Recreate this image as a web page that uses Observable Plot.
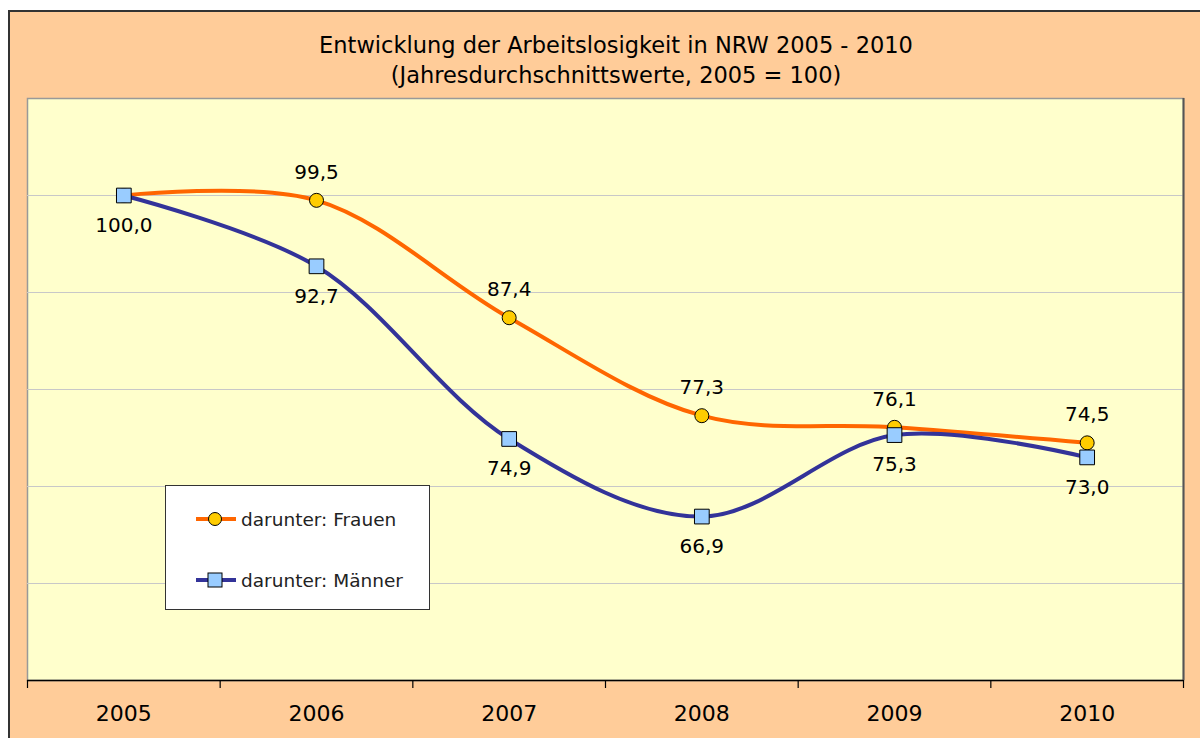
<!DOCTYPE html>
<html>
<head>
<meta charset="utf-8">
<script src="https://cdn.jsdelivr.net/npm/d3@7"></script>
<script src="https://cdn.jsdelivr.net/npm/@observablehq/plot@0.6"></script>
<style>
  html, body { margin: 0; padding: 0; background: #fff; width: 1200px; height: 738px; overflow: hidden; }
  body { font-family: "DejaVu Sans", sans-serif; }
  #chart { position: absolute; left: 8px; top: 10px; width: 1220px; height: 740px; background: #FFCC99;
           border-left: 2px solid #333; border-top: 2px solid #333; }
  #title { position: absolute; left: 0; top: 18px; width: 1212px; text-align: center; font-size: 22.5px; line-height: 30px; color: #000; }
  #plot { position: absolute; left: 0; top: 78px; }
  #legend { position: absolute; left: 155px; top: 473px; width: 263px; height: 123px; background: #fff; border: 1px solid #333; }
  .entry { position: absolute; left: 28px; height: 22px; display: flex; align-items: center; font-size: 18.5px; color: #222; white-space: nowrap; }
  .entry svg { margin-right: 3px; }
</style>
</head>
<body>
<div id="chart">
  <div id="title">Entwicklung der Arbeitslosigkeit in NRW 2005 - 2010<br>(Jahresdurchschnittswerte, 2005 = 100)</div>
  <div id="plot"></div>
  <div id="legend">
    <div class="entry" style="top:22px"><svg width="44" height="20"><line x1="2" y1="10" x2="42" y2="10" stroke="#FF6600" stroke-width="4"/><circle cx="21" cy="10" r="6.5" fill="#FFCC00" stroke="#000" stroke-width="1"/></svg>darunter: Frauen</div>
    <div class="entry" style="top:83px"><svg width="44" height="20"><line x1="2" y1="10" x2="42" y2="10" stroke="#333399" stroke-width="4"/><rect x="14" y="3" width="14" height="14" fill="#99CCFF" stroke="#000" stroke-width="1"/></svg>darunter: Männer</div>
  </div>
</div>
<script>
const years = [2005, 2006, 2007, 2008, 2009, 2010];
const frauenValues = [100.0, 99.5, 87.4, 77.3, 76.1, 74.5];
const maennerValues = [100.0, 92.7, 74.9, 66.9, 75.3, 73.0];
const gridValues = [60, 70, 80, 90, 100];
const yDomain = [50, 110];
const bandEdges = [2004.5, 2005.5, 2006.5, 2007.5, 2008.5, 2009.5, 2010.5];

const frauen = years.map((year, i) => ({year, value: frauenValues[i]}));
const maenner = years.map((year, i) => ({year, value: maennerValues[i]}));
const fmt = v => v.toFixed(1).replace(".", ",");

const chart = Plot.plot({
  width: 1190,
  height: 648,
  marginLeft: 17,
  marginRight: 17,
  marginTop: 8,
  marginBottom: 58,
  style: {background: "transparent", fontFamily: "DejaVu Sans, sans-serif", color: "#000"},
  x: {domain: [bandEdges[0], bandEdges[bandEdges.length - 1]]},
  y: {domain: yDomain, axis: null},
  marks: [
    Plot.frame({fill: "#FFFFCC", stroke: "#999999", strokeWidth: 1.5}),
    Plot.ruleY(gridValues, {stroke: "#C8C8C8", strokeWidth: 1.2}),
    Plot.ruleX([bandEdges[bandEdges.length - 1]], {stroke: "#555", strokeWidth: 2}),
    Plot.ruleY([yDomain[0]], {stroke: "#000", strokeWidth: 1.5}),
    Plot.axisX({ticks: bandEdges, tickFormat: () => "", tickSize: 8, stroke: "#000", strokeWidth: 1.2, label: null}),
    Plot.axisX({ticks: years, tickFormat: d => String(d), tickSize: 0, tickPadding: 25, fontSize: 22, label: null}),
    Plot.line(frauen, {x: "year", y: "value", curve: "catmull-rom", stroke: "#FF6600", strokeWidth: 4}),
    Plot.dot(frauen, {x: "year", y: "value", symbol: "circle", r: 7, fill: "#FFCC00", stroke: "#000", strokeWidth: 1}),
    Plot.line(maenner, {x: "year", y: "value", curve: "catmull-rom", stroke: "#333399", strokeWidth: 4}),
    Plot.dot(maenner, {x: "year", y: "value", symbol: "square", r: 8.3, fill: "#99CCFF", stroke: "#000", strokeWidth: 1}),
    Plot.text(frauen.filter(d => d.year !== years[0]), {x: "year", y: "value", text: d => fmt(d.value), dy: -28, fontSize: 20, fill: "#000"}),
    Plot.text(maenner, {x: "year", y: "value", text: d => fmt(d.value), dy: 30, fontSize: 20, fill: "#000"})
  ]
});
document.getElementById("plot").appendChild(chart);
</script>
</body>
</html>
